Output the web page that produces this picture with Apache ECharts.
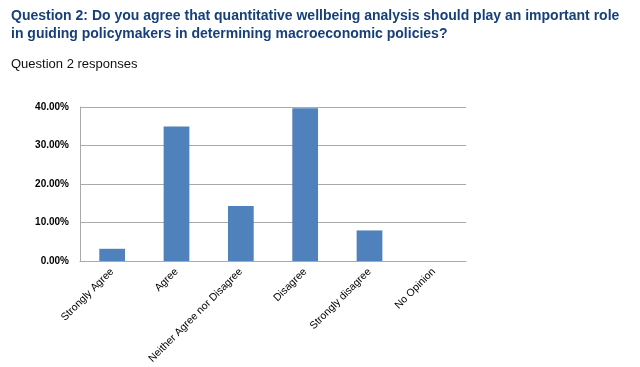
<!DOCTYPE html>
<html>
<head>
<meta charset="utf-8">
<script src="https://cdn.jsdelivr.net/npm/echarts@6/dist/echarts.min.js"></script>
<style>
html,body{margin:0;padding:0;background:#fff;}
#c{width:640px;height:367px;}
</style>
</head>
<body>
<div id="c"></div>
<script>
const titleLines = ["Question 2: Do you agree that quantitative wellbeing analysis should play an important role", "in guiding policymakers in determining macroeconomic policies?"];
const subtitle = "Question 2 responses";
const categories = ["Strongly Agree", "Agree", "Neither Agree nor Disagree", "Disagree", "Strongly disagree", "No Opinion"];
const values = [3.17, 34.92, 14.29, 39.68, 7.94, 0];
const yTicks = [0, 10, 20, 30, 40];

const chart = echarts.init(document.getElementById('c'));
chart.setOption({
  animation: false,
  title: [
    {
      text: titleLines.join('\n'),
      left: 11, top: 7, padding: 0,
      textStyle: {fontFamily: 'Liberation Sans, Arial', fontSize: 14, fontWeight: 'bold', color: '#17407A', lineHeight: 18}
    },
    {
      text: subtitle,
      left: 11, top: 56, padding: 0,
      textStyle: {fontFamily: 'Liberation Sans, Arial', fontSize: 13, fontWeight: 'normal', color: '#111', lineHeight: 16}
    }
  ],
  grid: {left: 80, right: 174, top: 107, bottom: 106, containLabel: false},
  xAxis: {
    type: 'category',
    data: categories,
    axisLine: {lineStyle: {color: '#aaa', width: 1}},
    axisTick: {show: false},
    axisLabel: {rotate: 45, interval: 0, margin: 9, fontFamily: 'Liberation Sans, Arial', fontSize: 10.5, color: '#000'}
  },
  yAxis: {
    type: 'value',
    min: yTicks[0], max: yTicks[yTicks.length - 1], interval: 10,
    axisLine: {show: true, lineStyle: {color: '#aaa', width: 1}},
    axisTick: {show: false},
    splitLine: {lineStyle: {color: '#aaa', width: 1}},
    axisLabel: {
      margin: 11,
      fontFamily: 'Liberation Sans, Arial', fontSize: 10, fontWeight: 'bold', color: '#000',
      formatter: v => v.toFixed(2) + '%'
    }
  },
  series: [{
    type: 'bar',
    data: values,
    barWidth: '40%',
    itemStyle: {color: '#4F81BD'}
  }]
});
</script>
</body>
</html>
